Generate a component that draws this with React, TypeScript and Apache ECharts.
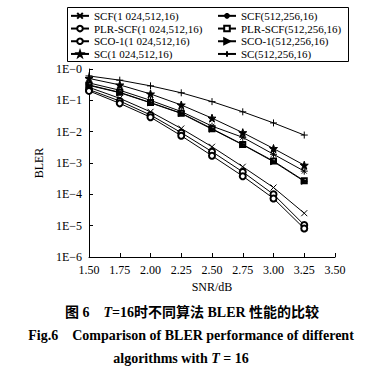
import React, { useEffect, useRef } from "react";
import * as echarts from "echarts";

const snr = [1.5, 1.75, 2.0, 2.25, 2.5, 2.75, 3.0, 3.25];
const xTicks = ["1.50", "1.75", "2.00", "2.25", "2.50", "2.75", "3.00", "3.25", "3.50"];

const scf1024 = [0.26, 0.116, 0.043, 0.0126, 0.0033, 0.00076, 0.000165, 0.000025];
const scf512 = [0.36, 0.21, 0.1, 0.044, 0.015, 0.0066, 0.0019, 0.00055];
const plr1024 = [0.22, 0.095, 0.034, 0.0093, 0.0023, 0.00052, 0.0001, 0.0000105];
const plr512 = [0.31, 0.18, 0.085, 0.039, 0.0125, 0.0039, 0.00115, 0.00027];
const sco1024 = [0.2, 0.08, 0.029, 0.0074, 0.0017, 0.00038, 0.000074, 0.0000081];
const sco512 = [0.3, 0.175, 0.083, 0.038, 0.012, 0.0038, 0.0011, 0.00026];
const sc1024 = [0.5, 0.31, 0.16, 0.071, 0.027, 0.0093, 0.0029, 0.00085];
const sc512 = [0.6, 0.44, 0.29, 0.174, 0.091, 0.043, 0.019, 0.0078];

const names = {
  scf1024: "SCF(1 024,512,16)",
  scf512: "SCF(512,256,16)",
  plr1024: "PLR-SCF(1 024,512,16)",
  plr512: "PLR-SCF(512,256,16)",
  sco1024: "SCO-1(1 024,512,16)",
  sco512: "SCO-1(512,256,16)",
  sc1024: "SC(1 024,512,16)",
  sc512: "SC(512,256,16)",
};

const X_SYM = "path://M0,0 L10,10 M10,0 L0,10";
const AST_SYM = "path://M0,5 L10,5 M5,0 L5,10 M1.5,1.5 L8.5,8.5 M8.5,1.5 L1.5,8.5";
const PLUS_SYM = "path://M5,0 L5,10 M0,5 L10,5";
const STAR_SYM =
  "path://M10,0 L12.35,6.76 L19.51,6.91 L13.8,11.24 L15.88,18.09 L10,14 L4.12,18.09 L6.2,11.24 L0.49,6.91 L7.65,6.76 Z";

const FONT = "'Liberation Serif', 'Noto Sans CJK SC', serif";

function mk(name: string, vals: number[], symbol: string, size: number, extra: any = {}) {
  return {
    type: "line",
    name,
    data: snr.map((x, i) => [x, vals[i]]),
    symbol,
    symbolSize: size,
    showAllSymbol: true,
    lineStyle: { color: "#000", width: 1 },
    itemStyle: { color: extra.fill ?? "#000", borderColor: "#000", borderWidth: 1 },
    symbolRotate: extra.rotate ?? 0,
  };
}

export default function App() {
  const ref = useRef<HTMLDivElement>(null);
  useEffect(() => {
    if (!ref.current) return;
    const chart = echarts.init(ref.current, undefined, { renderer: "svg" });
    const legendCommon = {
      orient: "vertical",
      padding: 0,
      itemWidth: 18,
      itemHeight: 7,
      itemGap: 0,
      textStyle: { fontFamily: FONT, fontSize: 11, color: "#000", lineHeight: 12.7 },
      selectedMode: false,
    };
    chart.setOption({
      animation: false,
      backgroundColor: "#fff",
      grid: { left: 89, right: 49, top: 69, bottom: 116 },
      legend: [
        {
          ...legendCommon,
          left: 70,
          top: 9.5,
          data: [names.scf1024, names.plr1024, names.sco1024, names.sc1024],
        },
        {
          ...legendCommon,
          left: 217,
          top: 9.5,
          data: [names.scf512, names.plr512, names.sco512, names.sc512],
        },
      ],
      xAxis: {
        type: "value",
        min: 1.5,
        max: 3.5,
        interval: 0.25,
        name: "SNR/dB",
        nameLocation: "middle",
        nameGap: 24,
        nameTextStyle: { fontFamily: FONT, fontSize: 12, color: "#000" },
        axisLine: { lineStyle: { color: "#000", width: 1 } },
        axisTick: { inside: true, length: 4, lineStyle: { color: "#000" } },
        axisLabel: {
          fontFamily: FONT,
          fontSize: 12,
          color: "#000",
          margin: 7,
          formatter: (v: number) => xTicks[Math.round((v - 1.5) / 0.25)] ?? v.toFixed(2),
        },
        splitLine: { show: false },
      },
      yAxis: {
        type: "log",
        logBase: 10,
        min: 1e-6,
        max: 1,
        name: "BLER",
        nameLocation: "middle",
        nameGap: 42,
        nameRotate: 90,
        nameTextStyle: { fontFamily: FONT, fontSize: 12, color: "#000" },
        axisLine: { show: true, lineStyle: { color: "#000", width: 1 } },
        axisTick: { show: true, inside: true, length: 4, lineStyle: { color: "#000" } },
        minorTick: { show: false },
        axisLabel: {
          fontFamily: FONT,
          fontSize: 12,
          color: "#000",
          margin: 7,
          formatter: (v: number) => "1E\u2212" + Math.round(-Math.log10(v)),
        },
        splitLine: { show: false },
      },
      series: [
        mk(names.scf1024, scf1024, X_SYM, 6),
        mk(names.scf512, scf512, AST_SYM, 7),
        mk(names.plr1024, plr1024, "emptyCircle", 6),
        mk(names.plr512, plr512, "emptyRect", 5),
        mk(names.sco1024, sco1024, "emptyCircle", 6),
        mk(names.sco512, sco512, "triangle", 6, { rotate: -90 }),
        mk(names.sc1024, sc1024, STAR_SYM, 8),
        mk(names.sc512, sc512, PLUS_SYM, 7),
      ],
      graphic: [
        {
          type: "rect",
          shape: { x: 67.5, y: 7.5, width: 281, height: 54 },
          style: { fill: "none", stroke: "#000", lineWidth: 1 },
          z: 10,
        },
        {
          type: "text",
          x: 192,
          y: 312,
          style: {
            text: "{a|图 6    }{i|T}{a|=16时不同算法 BLER 性能的比较}",
            align: "center",
            verticalAlign: "middle",
            rich: {
              a: { fontFamily: FONT, fontSize: 14, fontWeight: "bold", fill: "#000" },
              i: { fontFamily: FONT, fontSize: 14, fontWeight: "bold", fontStyle: "italic", fill: "#000" },
            },
          },
        },
        {
          type: "text",
          x: 191,
          y: 335,
          style: {
            text: "Fig.6    Comparison of BLER performance of different",
            align: "center",
            verticalAlign: "middle",
            fontFamily: FONT,
            fontSize: 14,
            fontWeight: "bold",
            fill: "#000",
          },
        },
        {
          type: "text",
          x: 181,
          y: 358,
          style: {
            text: "{a|algorithms with }{i|T}{a| = 16}",
            align: "center",
            verticalAlign: "middle",
            rich: {
              a: { fontFamily: FONT, fontSize: 14, fontWeight: "bold", fill: "#000" },
              i: { fontFamily: FONT, fontSize: 14, fontWeight: "bold", fontStyle: "italic", fill: "#000" },
            },
          },
        },
      ],
    });
    return () => chart.dispose();
  }, []);
  return <div ref={ref} style={{ width: 384, height: 373, position: "absolute", left: 0, top: 0 }} />;
}
